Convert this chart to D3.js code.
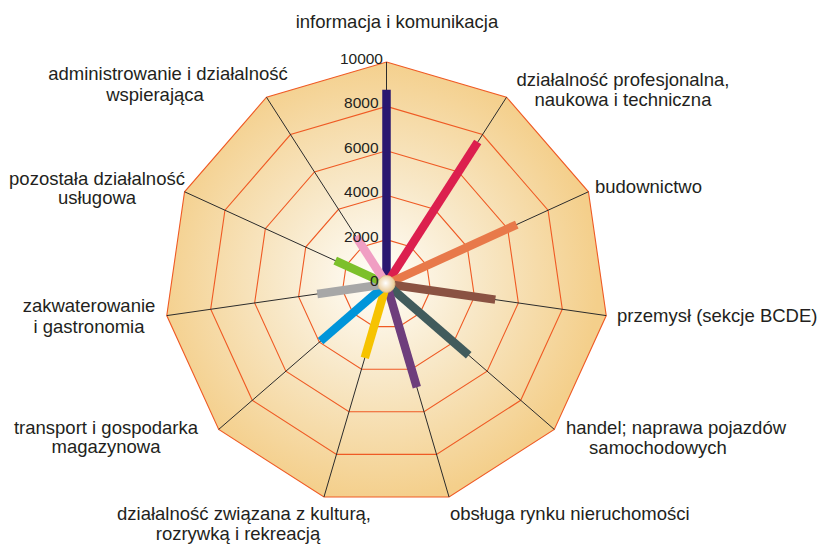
<!DOCTYPE html>
<html>
<head>
<meta charset="utf-8">
<script src="https://d3js.org/d3.v7.min.js"></script>
<style>
  body { margin: 0; background: #fff; }
  text { font-family: "Liberation Sans", Arial, sans-serif; fill: #231f20; }
</style>
</head>
<body>
<div id="my_dataviz"></div>
<script>
// categories, clockwise from the top
var categories = [
  "informacja i komunikacja",
  "działalność profesjonalna, naukowa i techniczna",
  "budownictwo",
  "przemysł (sekcje BCDE)",
  "handel; naprawa pojazdów samochodowych",
  "obsługa rynku nieruchomości",
  "działalność związana z kulturą, rozrywką i rekreacją",
  "transport i gospodarka magazynowa",
  "zakwaterowanie i gastronomia",
  "pozostała działalność usługowa",
  "administrowanie i działalność wspierająca"
];

// label text split into lines
var labelLines = [
  ["informacja i komunikacja"],
  ["działalność profesjonalna,", "naukowa i techniczna"],
  ["budownictwo"],
  ["przemysł (sekcje BCDE)"],
  ["handel; naprawa pojazdów", "samochodowych"],
  ["obsługa rynku nieruchomości"],
  ["działalność związana z kulturą,", "rozrywką i rekreacją"],
  ["transport i gospodarka", "magazynowa"],
  ["zakwaterowanie", "i gastronomia"],
  ["pozostała działalność", "usługowa"],
  ["administrowanie i działalność", "wspierająca"]
];

var values = [8750, 7600, 6450, 4950, 4900, 4850, 3470, 3930, 3150, 2540, 2550];

var barColors = ["#2a1770", "#dc1f4e", "#e8794a", "#8a5242", "#415b5c", "#6e3e7c",
                 "#f6c300", "#0095da", "#a7a7a7", "#7cc02b", "#f09ec3"];

var ticks = [0, 2000, 4000, 6000, 8000, 10000];

// set the dimensions of the graph
var width = 820, height = 545;
var cx = 386.5, cy = 284, R = 222;

// label placement: [x, first baseline, line height, anchor]
var labelLayout = [
  [397, 28, 20, "middle"],
  [623, 86, 20, "middle"],
  [595, 193, 20, "start"],
  [617, 322, 20, "start"],
  [676, 434, 20, "middle"],
  [450, 520, 20, "start"],
  [244, 520, 20, "middle"],
  [106, 434, 19, "middle"],
  [89, 312, 21, "middle"],
  [97, 185, 19, "middle"],
  [168, 80, 21, "middle"]
];
var secondLineX = {4: 658, 6: 238, 10: 155};

var svg = d3.select("#my_dataviz")
  .append("svg")
    .attr("width", width)
    .attr("height", height);

var r = d3.scaleLinear()
  .domain([0, 10000])
  .range([0, R]);

var angle = d3.scalePoint()
  .domain(d3.range(categories.length + 1))
  .range([0, 2 * Math.PI]);

function pt(i, v) {
  var a = angle(i);
  return [cx + r(v) * Math.sin(a), cy - r(v) * Math.cos(a)];
}

// background gradient
var defs = svg.append("defs");
var bg = defs.append("radialGradient")
  .attr("id", "bgGrad")
  .attr("gradientUnits", "userSpaceOnUse")
  .attr("cx", cx - 10).attr("cy", cy - 5).attr("r", R);
bg.append("stop").attr("offset", "0%").attr("stop-color", "#fffefa");
bg.append("stop").attr("offset", "45%").attr("stop-color", "#f8e8c8");
bg.append("stop").attr("offset", "100%").attr("stop-color", "#f4cf8b");

var knob = defs.append("radialGradient")
  .attr("id", "knobGrad")
  .attr("cx", "45%").attr("cy", "45%").attr("r", "60%");
knob.append("stop").attr("offset", "0%").attr("stop-color", "#ffffff");
knob.append("stop").attr("offset", "100%").attr("stop-color", "#e6c389");

var idx = d3.range(categories.length);
var polyLine = d3.line().curve(d3.curveLinearClosed);

// outer filled polygon
svg.append("path")
  .attr("d", polyLine(idx.map(function(i) { return pt(i, 10000); })))
  .style("fill", "url(#bgGrad)");

// grid polygons
svg.append("g")
  .selectAll("path")
  .data(ticks.filter(function(t) { return t > 0; }))
  .enter()
  .append("path")
    .attr("d", function(t) { return polyLine(idx.map(function(i) { return pt(i, t); })); })
    .style("fill", "none")
    .style("stroke", "#ef5a24")
    .style("stroke-width", 1.1);

// axes
svg.append("g")
  .selectAll("line")
  .data(idx)
  .enter()
  .append("line")
    .attr("x1", cx).attr("y1", cy)
    .attr("x2", function(i) { return pt(i, 10000)[0]; })
    .attr("y2", function(i) { return pt(i, 10000)[1]; })
    .style("stroke", "#2b2b2b")
    .style("stroke-width", 1);

// bars
svg.append("g")
  .selectAll("line")
  .data(values)
  .enter()
  .append("line")
    .attr("x1", cx).attr("y1", cy)
    .attr("x2", function(d, i) { return pt(i, d)[0]; })
    .attr("y2", function(d, i) { return pt(i, d)[1]; })
    .style("stroke", function(d, i) { return barColors[i]; })
    .style("stroke-width", 8.5)
    .style("stroke-linecap", "butt");

// centre knob
svg.append("circle")
  .attr("cx", cx).attr("cy", cy)
  .attr("r", 8.5)
  .style("fill", "url(#knobGrad)")
  .style("stroke", "#e0bd85")
  .style("stroke-width", 0.8);

// tick labels along the top axis
svg.append("g")
  .selectAll("text")
  .data(ticks)
  .enter()
  .append("text")
    .attr("x", function(t) { return t == 10000 ? 383 : 378.5; })
    .attr("y", function(t) { return cy - r(t) + 2; })
    .attr("text-anchor", "end")
    .style("font-size", "15.5px")
    .text(function(t) { return t; });

// category labels
labelLines.forEach(function(lines, i) {
  var L = labelLayout[i];
  var txt = svg.append("text")
    .attr("text-anchor", L[3])
    .style("font-size", "18.5px");
  lines.forEach(function(s, j) {
    txt.append("tspan")
      .attr("x", j == 1 && secondLineX[i] ? secondLineX[i] : L[0])
      .attr("y", L[1] + j * L[2])
      .text(s);
  });
});
</script>
</body>
</html>
